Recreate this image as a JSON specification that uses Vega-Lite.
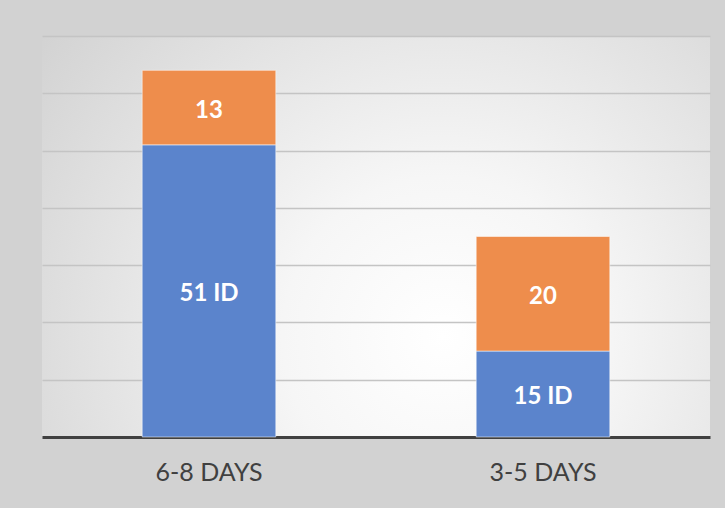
{
  "$schema": "https://vega.github.io/schema/vega-lite/v6.json",
  "width": 668,
  "height": 401,
  "autosize": "none",
  "padding": {"left": 42, "top": 36, "right": 15, "bottom": 71},
  "background": "#d2d2d2",
  "config": {
    "view": {
      "stroke": null,
      "fill": {
        "gradient": "radial",
        "x1": 0.6, "y1": 0.65, "r1": 0,
        "x2": 0.6, "y2": 0.65, "r2": 0.8,
        "stops": [
          {"offset": 0, "color": "#ffffff"},
          {"offset": 0.3, "color": "#f6f6f6"},
          {"offset": 1, "color": "#cfcfcf"}
        ]
      }
    }
  },
  "data": {
    "values": [
      {"cat": "6-8 DAYS", "part": "ID", "ord": 1, "value": 51, "label": "51 ID"},
      {"cat": "6-8 DAYS", "part": "Other", "ord": 2, "value": 13, "label": "13"},
      {"cat": "3-5 DAYS", "part": "ID", "ord": 1, "value": 15, "label": "15 ID"},
      {"cat": "3-5 DAYS", "part": "Other", "ord": 2, "value": 20, "label": "20"}
    ]
  },
  "encoding": {
    "x": {
      "field": "cat", "type": "nominal", "sort": ["6-8 DAYS", "3-5 DAYS"],
      "scale": {"paddingInner": 0.6, "paddingOuter": 0.3},
      "axis": {
        "title": null, "labelAngle": 0, "ticks": false,
        "domainColor": "#404040", "domainWidth": 3,
        "labelFont": "Lato", "labelFontSize": 25, "labelColor": "#404040",
        "labelPadding": 23
      }
    },
    "y": {
      "field": "value", "type": "quantitative", "stack": "zero",
      "scale": {"domain": [0, 70], "nice": false},
      "axis": {
        "title": null, "labels": false, "ticks": false, "domain": false,
        "values": [10, 20, 30, 40, 50, 60, 70],
        "gridColor": "#c4c4c4", "gridWidth": 1.5
      }
    },
    "order": {"field": "ord", "type": "quantitative"}
  },
  "layer": [
    {
      "mark": {"type": "bar", "stroke": "#ffffff", "strokeOpacity": 0.5, "strokeWidth": 1},
      "encoding": {
        "color": {
          "field": "part", "type": "nominal", "legend": null,
          "scale": {"domain": ["ID", "Other"], "range": ["#5b84cc", "#ee8d4c"]}
        }
      }
    },
    {
      "mark": {"type": "text", "color": "#ffffff", "font": "Lato", "fontWeight": "bold", "fontSize": 24, "baseline": "middle", "dy": 3},
      "encoding": {
        "y": {"field": "value", "type": "quantitative", "stack": "zero", "bandPosition": 0.5},
        "text": {"field": "label"}
      }
    }
  ]
}
